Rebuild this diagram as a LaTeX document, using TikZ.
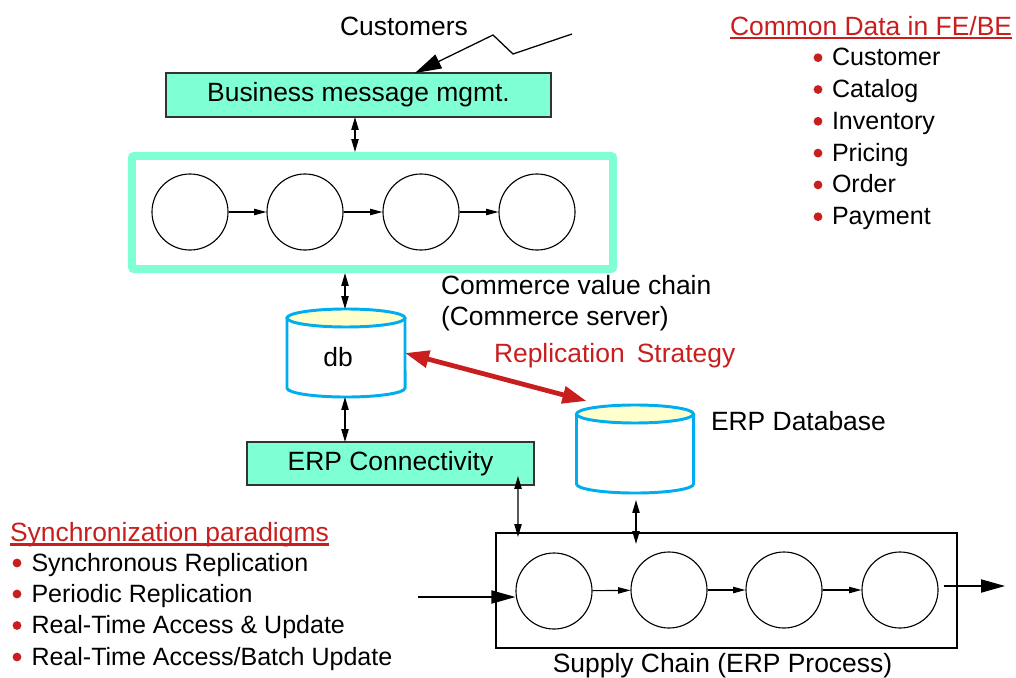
\documentclass[tikz,border=0pt]{standalone}
\usepackage{fontspec}
\setmainfont{Liberation Sans}
\usetikzlibrary{arrows.meta,calc,backgrounds}
\definecolor{aqua}{RGB}{127,255,212}
\definecolor{cred}{RGB}{200,30,30}
\definecolor{cblue}{RGB}{0,174,239}
\definecolor{cyel}{RGB}{255,255,204}
\begin{document}
\begin{tikzpicture}[x=0.025cm,y=-0.025cm,
  txt/.style={font=\fontsize{18.8}{22}\selectfont, inner sep=0pt, outer sep=0pt},
  lst/.style={font=\fontsize{17.8}{21}\selectfont, inner sep=0pt, outer sep=0pt, anchor=base west},
  box/.style={draw=black!80, line width=0.9pt, fill=aqua, inner sep=0pt, outer sep=0pt, font=\fontsize{18.8}{22}\selectfont},
  proc/.style={circle, draw, line width=0.8pt, minimum size=1.9cm, inner sep=0pt},
  dbl/.style={{Triangle[length=0.32cm,width=0.18cm]}-{Triangle[length=0.32cm,width=0.18cm]}, line width=0.9pt},
  flow/.style={-{Triangle[length=0.31cm,width=0.16cm]}, line width=0.8pt},
  big/.style={-{Triangle[length=0.6cm,width=0.33cm]}, line width=0.9pt},
  redarr/.style={{Triangle[length=0.6cm,width=0.42cm]}-{Triangle[length=0.6cm,width=0.42cm]}, line width=3.4pt, draw=cred},
  cylline/.style={draw=cblue, line width=2.1pt},
  cylnode/.style={inner sep=0pt, outer sep=0pt, minimum height=2.2cm, font=\fontsize{18.8}{22}\selectfont},
  uline/.style={draw=cred, line width=1.7pt},
  bul/.style={fill=cred}
]
\useasboundingbox (0,0) rectangle (1016,677);

% ---------- top: customers and message management
\node[txt, anchor=base] (cust) at (404,35) {Customers};
\node[box, minimum width=9.625cm, minimum height=1.1cm] (bmm) at (358.5,95) {Business message mgmt.};
\coordinate (cs) at (572,34);
\draw[-{Triangle[length=0.66cm,width=0.38cm]}, line width=0.9pt] (cs) -- (513,54) -- (493,35) -- ($(bmm.north)+(56.5,0)$);

% ---------- commerce value chain
\node[draw=aqua, line width=0.2cm, rounded corners=1.5pt, minimum width=12.025cm, minimum height=2.825cm] (cvc) at (372.5,212.5) {};
\node[proc] (c1) at (190,212) {};
\node[proc] (c2) at (305,212) {};
\node[proc] (c3) at (421,212) {};
\node[proc] (c4) at (537,212) {};
\draw[flow] (c1) -- (c2);
\draw[flow] (c2) -- (c3);
\draw[flow] (c3) -- (c4);
\draw[dbl] ($(bmm.south)+(-3.5,0)$) -- ($(cvc.north)+(-17.5,0)$);

\node[txt, anchor=base west] (cvct1) at (441,294) {Commerce value chain};
\node[txt, anchor=base west] (cvct2) at (441,325) {(Commerce server)};

% ---------- db cylinder
\node[cylnode, minimum width=2.95cm, text height=0.68cm, text depth=0cm] (db) at (346,353) {\kern-0.4cm db};
\begin{scope}[on background layer]
\draw[cylline, fill=white] ($(db.north west)+(0,9)$) -- ($(db.south west)+(0,-9)$)
   arc[start angle=180, end angle=360, x radius=1.475cm, y radius=0.225cm] -- ($(db.north east)+(0,9)$);
\draw[cylline, fill=cyel] ($(db.north)+(0,9)$) ellipse[x radius=1.475cm, y radius=0.225cm];
\end{scope}
\draw[dbl] ($(cvc.south)+(-27.5,0)$) -- ($(db.north)+(-1,0)$);

% ---------- ERP database cylinder
\node[cylnode, minimum width=2.925cm] (erpdb) at (635,449) {};
\begin{scope}[on background layer]
\draw[cylline, fill=white] ($(erpdb.north west)+(0,9)$) -- ($(erpdb.south west)+(0,-9)$)
   arc[start angle=180, end angle=360, x radius=1.4625cm, y radius=0.225cm] -- ($(erpdb.north east)+(0,9)$);
\draw[cylline, fill=cyel] ($(erpdb.north)+(0,9)$) ellipse[x radius=1.4625cm, y radius=0.225cm];
\end{scope}
\node[txt, anchor=base west] (erpdbt) at (711,430) {ERP Database};

% ---------- replication
\draw[redarr] (db.east) -- ($(erpdb.north west)+(10,-4)$);
\node[txt, anchor=base west, text=cred] (repl) at (494,362) {Replication\hspace{0.3cm}Strategy};

% ---------- ERP connectivity
\node[box, minimum width=7.175cm, minimum height=1.075cm] (erpc) at (390.5,463.5) {ERP Connectivity};
\draw[dbl] ($(db.south)+(-1,0)$) -- ($(erpc.north)+(-45.5,0)$);

% ---------- supply chain
\node[draw, line width=0.9pt, outer sep=0pt, minimum width=11.525cm, minimum height=2.875cm] (sc) at (726.5,590.5) {};
\node[proc] (s1) at (554,591) {};
\node[proc] (s2) at (669,590) {};
\node[proc] (s3) at (784,590) {};
\node[proc] (s4) at (900,590) {};
\draw[flow] (s1) -- (s2);
\draw[flow] (s2) -- (s3);
\draw[flow] (s3) -- (s4);
\coordinate (in) at (418,597);
\coordinate (out) at (1005,586);
\draw[big] (in) -- (in -| s1.west);
\draw[big] ($(s4.east)+(5,-4)$) -- (out);
\draw[dbl] ($(erpc.south)+(127.5,-9)$) -- ($(sc.north)+(-208.5,4)$);
\draw[dbl] ($(erpdb.south)+(1,7)$) -- ($(sc.north)+(-90.5,11)$);
\node[txt, anchor=base] (sct) at (722.5,672) {Supply Chain (ERP Process)};

% ---------- common data list
\node[txt, anchor=base west, text=cred] (cdh) at (730,35) {Common Data in FE/BE};
\draw[uline] ($(cdh.base west)+(0,3)$) -- ($(cdh.base east)+(0,3)$);
\node[lst] (r1) at (832,65.7) {Customer};
\node[lst] (r2) at (832,97.5) {Catalog};
\node[lst] (r3) at (832,129.3) {Inventory};
\node[lst] (r4) at (832,161.1) {Pricing};
\node[lst] (r5) at (832,192.9) {Order};
\node[lst] (r6) at (832,224.7) {Payment};
\foreach \n in {r1,r2,r3,r4,r5,r6}
  \fill[bul] ($(\n.base west)+(-14,-8)$) circle[radius=0.11cm];

% ---------- synchronization list
\node[txt, anchor=base west, text=cred] (sph) at (10,541.5) {Synchronization paradigms};
\draw[uline] ($(sph.base west)+(0,3)$) -- ($(sph.base east)+(0,3)$);
\node[lst] (l1) at (31.5,571) {Synchronous Replication};
\node[lst] (l2) at (31.5,602) {Periodic Replication};
\node[lst] (l3) at (31.5,633.5) {Real-Time Access \& Update};
\node[lst] (l4) at (31.5,665) {Real-Time Access/Batch Update};
\foreach \n in {l1,l2,l3,l4}
  \fill[bul] ($(\n.base west)+(-14.5,-8)$) circle[radius=0.11cm];
\end{tikzpicture}
\end{document}
